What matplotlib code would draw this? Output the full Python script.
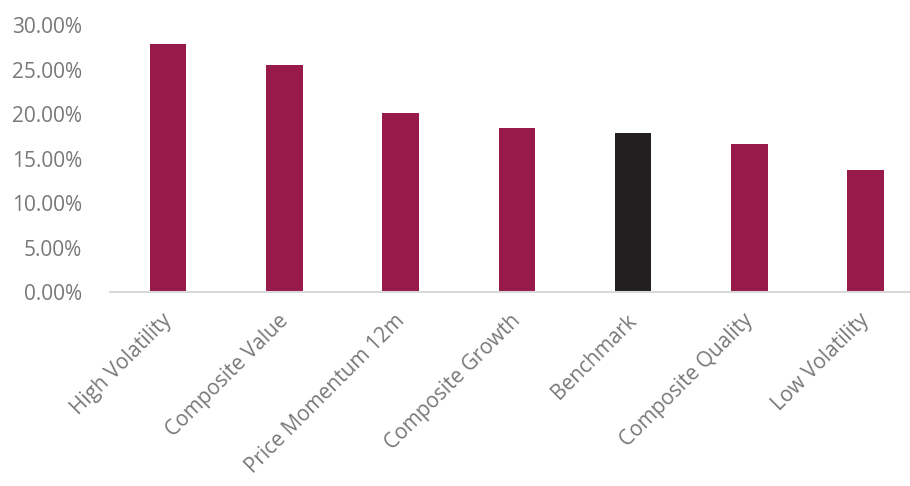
import matplotlib
matplotlib.use("Agg")
import matplotlib.pyplot as plt
import matplotlib.transforms as mtransforms
from matplotlib.ticker import FuncFormatter

categories = ["High Volatility", "Composite Value", "Price Momentum 12m",
              "Composite Growth", "Benchmark", "Composite Quality", "Low Volatility"]
values = [27.9, 25.55, 20.1, 18.43, 17.9, 16.6, 13.67]
colors = ["#971A4B", "#971A4B", "#971A4B", "#971A4B", "#231F20", "#971A4B", "#971A4B"]
yticks = [0, 5, 10, 15, 20, 25, 30]

fig = plt.figure(figsize=(9.10, 4.86), dpi=100)
left = 110 / 910
width = (7 * 116.25) / 910
bottom = 1 - 292 / 486
top = 1 - 25 / 486
ax = fig.add_axes([left, bottom, width, top - bottom])

x = list(range(len(categories)))
ax.bar(x, values, width=0.314, color=colors, zorder=2)
ax.set_xlim(-0.5, 6.5)
ax.set_ylim(0, 30)
ax.set_yticks(yticks)
ax.yaxis.set_major_formatter(FuncFormatter(lambda v, p: f"{v:.2f}%"))
for s in ["top", "right", "left"]:
    ax.spines[s].set_visible(False)
ax.spines["bottom"].set_color("#D9D9D9")
ax.spines["bottom"].set_linewidth(1.5)
ax.tick_params(axis="both", length=0)
ax.tick_params(axis="y", pad=20, labelsize=15, labelcolor="#787878")
for lab in ax.get_yticklabels():
    lab.set_fontfamily("Open Sans")
ax.set_xticks(x)
ax.set_xticklabels(categories, rotation=45, ha="right", rotation_mode="anchor",
                   fontsize=15, color="#787878", family="Open Sans")
ax.tick_params(axis="x", pad=13)
offset = mtransforms.ScaledTranslation(-7 / 100, 0, fig.dpi_scale_trans)
for lab in ax.get_xticklabels():
    lab.set_transform(lab.get_transform() + offset)

fig.savefig("out.png", dpi=100)
